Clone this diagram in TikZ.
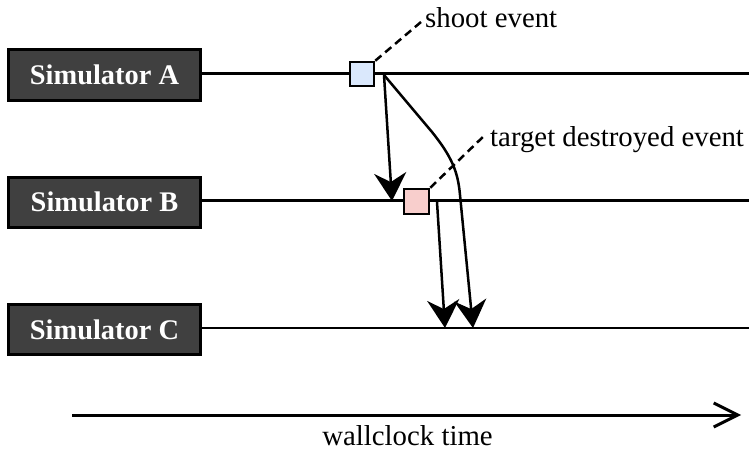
\documentclass[tikz,border=0pt]{standalone}
\usepackage{fontspec}
\setmainfont{LiberationSerif}[
  Extension=.ttf,
  UprightFont=*-Regular,
  BoldFont=*-Bold,
  ItalicFont=*-Italic,
  BoldItalicFont=*-BoldItalic]
\usetikzlibrary{arrows.meta}

\definecolor{simfill}{HTML}{404040}
\definecolor{shootfill}{HTML}{DAE8FC}
\definecolor{destroyfill}{HTML}{F8CECC}

\tikzset{
  simbox/.style={draw=black, line width=3pt, fill=simfill, text=white,
    font=\fontsize{28.4}{32}\selectfont\bfseries,
    minimum width=192pt, minimum height=50pt, inner sep=0pt,
    text height=19pt, text depth=0pt, yshift=-1.5pt},
  timeline/.style={line width=2.5pt},
  eventbox/.style={draw=black, line width=2.5pt, minimum size=24pt, inner sep=0pt},
  msg/.style={line width=2.5pt,
    -{Stealth[length=28pt, width=32pt, inset=9pt]}},
  callout/.style={line width=2.5pt, dash pattern=on 8pt off 5pt},
  lbl/.style={font=\fontsize{28.8}{32}\selectfont, inner sep=0pt}
}

\begin{document}
\begin{tikzpicture}[x=1pt, y=-1pt]
  \useasboundingbox (0,0) rectangle (749,452);

  % simulators and their timelines
  \node[simbox] (simA) at (104.5,73.5) {Simulator A};
  \node[simbox] (simB) at (104.5,200.5) {Simulator B};
  \node[simbox] (simC) at (104.5,328) {Simulator C};

  \coordinate (endA) at (749,73.5);
  \coordinate (endB) at (749,200.5);
  \coordinate (endC) at (749,328);

  \draw[timeline] (simA.east |- endA) -- (endA);
  \draw[timeline] (simB.east |- endB) -- (endB);
  \draw[timeline] (simC.east |- endC) -- (endC);

  % events
  \node[eventbox, fill=shootfill] (shoot) at (362,74) {};
  \node[eventbox, fill=destroyfill, minimum size=25pt] (destroy) at (416.5,201.5) {};

  % event labels
  \node[lbl, anchor=base west] (shootLbl) at (425,28) {shoot event};
  \node[lbl, anchor=base west] (destroyLbl) at (490,146) {target destroyed event};
  \coordinate (shootTail) at (421,22);
  \coordinate (destroyTail) at (486,134);
  \draw[callout] (shoot.north east) -- (shootTail);
  \draw[callout] (destroy.north east) -- (destroyTail);

  % messages
  \coordinate (fromA) at (384,75);
  \coordinate (fromB) at (437,202);
  \coordinate (hitB) at (392,201);
  \coordinate (hitC1) at (445,328);
  \coordinate (hitC2) at (473,328);

  \draw[msg] (fromA) -- (hitB);
  \draw[msg] (fromA) -- (432,132) .. controls (452,157) and (458,172) .. (460,195) -- (hitC2);
  \draw[msg] (fromB) -- (hitC1);

  % wallclock axis
  \coordinate (timeStart) at (72,415);
  \coordinate (timeEnd) at (741,415);
  \draw[line width=3pt, -{Straight Barb[length=24pt, width=24pt, line width=3pt]}] (timeStart) -- (timeEnd);
  \node[lbl, anchor=base] (timeLbl) at (407.5,445) {wallclock time};
\end{tikzpicture}
\end{document}
